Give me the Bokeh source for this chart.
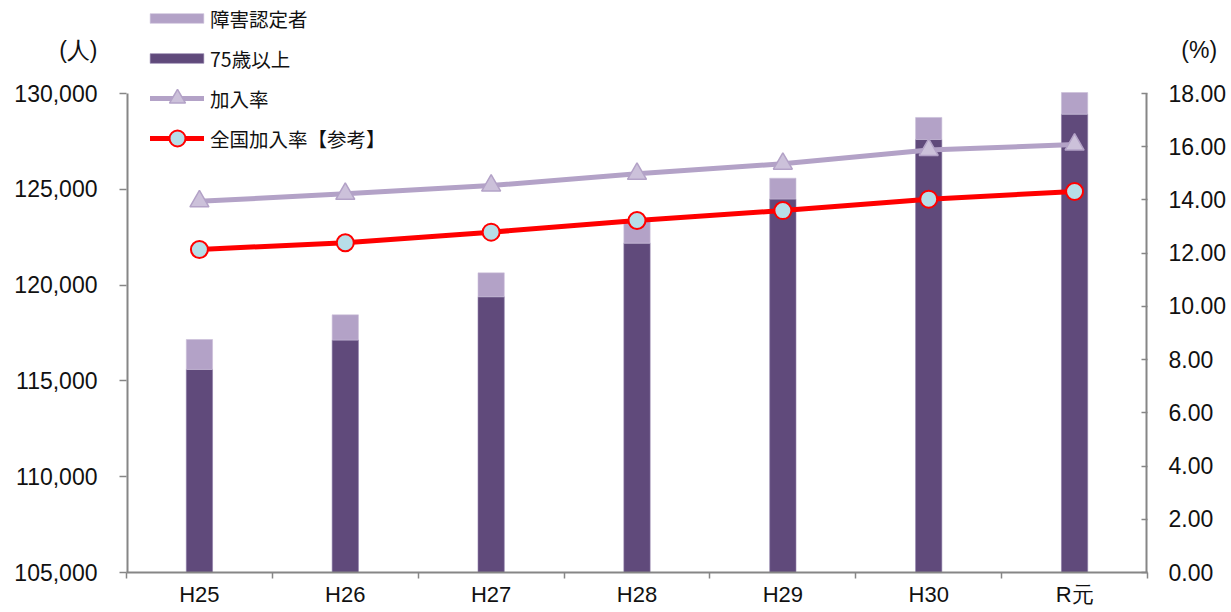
from bokeh.plotting import figure
from bokeh.models import (Range1d, LinearAxis, FixedTicker, NumeralTickFormatter,
                          Legend, LegendItem)
from bokeh.embed import file_html
from bokeh.resources import INLINE

categories = ["H25", "H26", "H27", "H28", "H29", "H30", "R元"]
over75 = [115600, 117130, 119390, 122190, 124490, 127600, 128920]      # 75歳以上
disabled = [1560, 1320, 1250, 1110, 1090, 1150, 1130]                  # 障害認定者
rate = [13.95, 14.23, 14.54, 14.98, 15.36, 15.88, 16.08]               # 加入率
national = [12.14, 12.39, 12.79, 13.23, 13.60, 14.03, 14.32]           # 全国加入率【参考】

left_ticks = [105000, 110000, 115000, 120000, 125000, 130000]
right_ticks = [0, 2, 4, 6, 8, 10, 12, 14, 16, 18]
units = ["(人)", "\u00a0\u00a0(%)"]

CJK = "Noto Sans CJK JP"
NUM = "Liberation Sans"
AXIS_COLOR = "#868686"
TEXT_COLOR = "#111111"
DARK = "#604A7B"
LIGHT = "#B3A2C7"

# layout (pixels): the frame spans the full height above the x axis,
# the value axes cover only its lower PLOT_H pixels
FIG_W, FIG_H = 1231, 610
FRAME_H = 572
PLOT_H = 479
UNIT_PX = 44          # unit captions sit this far above the top tick

xs = list(range(len(categories)))
totals = [a + b for a, b in zip(over75, disabled)]
base = [left_ticks[0]] * len(xs)

ext = FRAME_H / PLOT_H
y_lo, y_hi = left_ticks[0], left_ticks[-1]
r_lo, r_hi = right_ticks[0], right_ticks[-1]
y_unit = y_hi + (y_hi - y_lo) * UNIT_PX / PLOT_H
r_unit = r_hi + (r_hi - r_lo) * UNIT_PX / PLOT_H
x_lo, x_hi = -0.5, len(categories) - 0.5

p = figure(width=FIG_W, height=FIG_H, output_backend="svg", toolbar_location=None,
           x_range=Range1d(x_lo, x_hi),
           y_range=Range1d(y_lo, y_lo + (y_hi - y_lo) * ext),
           min_border_left=126, min_border_right=84, min_border_top=0,
           min_border_bottom=FIG_H - FRAME_H)
p.extra_y_ranges = {"rate": Range1d(r_lo, r_lo + (r_hi - r_lo) * ext)}
p.xgrid.visible = False
p.ygrid.visible = False
p.outline_line_color = None
p.background_fill_color = "white"
p.border_fill_color = "white"

# value-axis lines (only over the plotted span)
p.segment(x0=[x_lo], y0=[y_lo], x1=[x_lo], y1=[y_hi], line_color=AXIS_COLOR, line_width=4)
p.segment(x0=[x_hi], y0=[r_lo], x1=[x_hi], y1=[r_hi], y_range_name="rate",
          line_color=AXIS_COLOR, line_width=4)

# bars
dark_r = p.vbar(x=xs, width=0.18, bottom=base, top=over75,
                fill_color=DARK, line_color="#8C7BA6", line_width=0.6)
light_r = p.vbar(x=xs, width=0.18, bottom=over75, top=totals,
                 fill_color=LIGHT, line_color="#C9BDD9", line_width=0.6)

# lines
rate_line = p.line(xs, rate, y_range_name="rate", line_color=LIGHT, line_width=5,
                   line_cap="round")
rate_pts = p.scatter(xs, rate, y_range_name="rate", marker="triangle", size=19,
                     fill_color="#CCC1DA", line_color=LIGHT, line_width=1.5)
nat_line = p.line(xs, national, y_range_name="rate", line_color="#FF0000", line_width=5,
                  line_cap="round")
nat_pts = p.scatter(xs, national, y_range_name="rate", marker="circle", size=17,
                    fill_color="#B7DEE8", line_color="#FF0000", line_width=2)

# x axis
xa = p.xaxis[0]
xa.ticker = FixedTicker(ticks=xs, minor_ticks=[i + 0.5 for i in range(-1, len(xs))])
xa.major_label_overrides = {i: c for i, c in enumerate(categories)}
xa.major_tick_out = 0
xa.major_tick_in = 0
xa.minor_tick_out = 6
xa.minor_tick_in = 0
xa.minor_tick_line_color = AXIS_COLOR
xa.minor_tick_line_width = 1.5
xa.axis_line_color = AXIS_COLOR
xa.axis_line_width = 2
xa.major_label_text_font = NUM
xa.major_label_text_font_size = "22px"
xa.major_label_text_color = TEXT_COLOR
xa.major_label_standoff = 3

# left axis (tick marks drawn as minor ticks; the unit caption is an extra labelled tick)
ya = p.yaxis[0]
ya.ticker = FixedTicker(ticks=left_ticks + [y_unit], minor_ticks=left_ticks)
ya.formatter = NumeralTickFormatter(format="0,0")
ya.major_label_overrides = {y_unit: units[0]}
ya.major_tick_line_color = None
ya.major_tick_out = 7
ya.major_tick_in = 0
ya.minor_tick_line_color = AXIS_COLOR
ya.minor_tick_line_width = 1.5
ya.minor_tick_out = 7
ya.minor_tick_in = 0
ya.axis_line_color = None
ya.major_label_text_font = NUM
ya.major_label_text_font_size = "23px"
ya.major_label_text_color = TEXT_COLOR
ya.major_label_standoff = 22

# right axis
ra = LinearAxis(y_range_name="rate",
                ticker=FixedTicker(ticks=right_ticks + [r_unit], minor_ticks=right_ticks),
                formatter=NumeralTickFormatter(format="0.00"))
ra.major_label_overrides = {r_unit: units[1]}
ra.major_tick_line_color = None
ra.major_tick_out = 0
ra.major_tick_in = 0
ra.minor_tick_line_color = AXIS_COLOR
ra.minor_tick_line_width = 1.5
ra.minor_tick_out = 0
ra.minor_tick_in = 6
ra.axis_line_color = None
ra.major_label_text_font = NUM
ra.major_label_text_font_size = "23px"
ra.major_label_text_color = TEXT_COLOR
ra.major_label_standoff = 21
p.add_layout(ra, "right")


def style(lg):
    lg.background_fill_alpha = 0
    lg.border_line_color = None
    lg.padding = 0
    lg.margin = 0
    lg.label_text_font = CJK
    lg.label_text_font_size = "19.5px"
    lg.label_text_color = TEXT_COLOR
    lg.label_height = 30


# legend for the bars
leg_a = Legend(items=[LegendItem(label="障害認定者", renderers=[light_r]),
                      LegendItem(label="75歳以上", renderers=[dark_r])],
               location=(17, 499))
style(leg_a)
leg_a.glyph_width = 67
leg_a.glyph_height = 12
leg_a.label_standoff = 0
leg_a.spacing = 10

# legend for the lines
leg_b = Legend(items=[LegendItem(label="加入率", renderers=[rate_line, rate_pts]),
                      LegendItem(label="全国加入率【参考】", renderers=[nat_line, nat_pts])],
               location=(24, 414))
style(leg_b)
leg_b.glyph_width = 54
leg_b.label_standoff = 6
leg_b.glyph_height = 40
leg_b.spacing = -2

p.add_layout(leg_a, "center")
p.add_layout(leg_b, "center")

open("out.html", "w").write(file_html(p, INLINE))
